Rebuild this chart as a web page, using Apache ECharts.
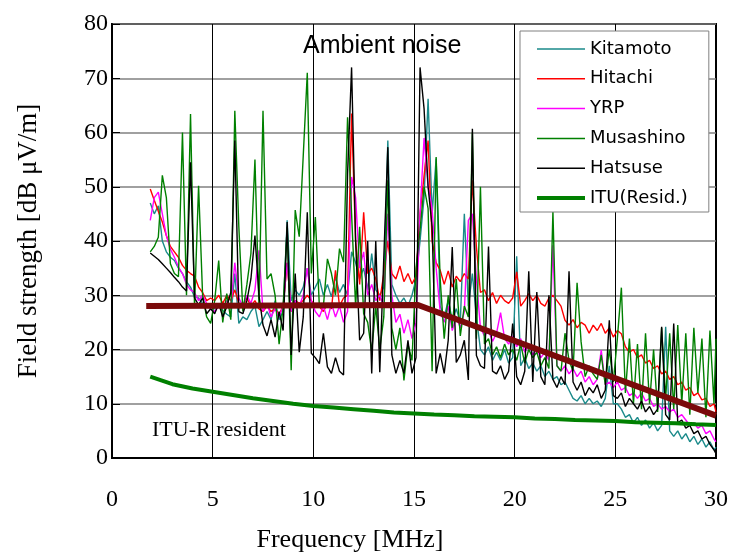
<!DOCTYPE html>
<html>
<head>
<meta charset="utf-8">
<script src="https://cdn.jsdelivr.net/npm/echarts/dist/echarts.min.js"></script>
<style>
html,body{margin:0;padding:0;background:#fff;}
#main{width:731px;height:553px;}
</style>
</head>
<body>
<div id="main"></div>
<script>
// 测定频率 (MHz)
var freq = [1.9,
  2.1,2.3,2.5,2.7,2.9, 3.1,3.3,3.5,3.7,3.9, 4.1,4.3,4.5,4.7,4.9, 5.1,5.3,5.5,5.7,5.9,
  6.1,6.3,6.5,6.7,6.9, 7.1,7.3,7.5,7.7,7.9, 8.1,8.3,8.5,8.7,8.9, 9.1,9.3,9.5,9.7,9.9,
  10.1,10.3,10.5,10.7,10.9, 11.1,11.3,11.5,11.7,11.9, 12.1,12.3,12.5,12.7,12.9, 13.1,13.3,13.5,13.7,13.9,
  14.1,14.3,14.5,14.7,14.9, 15.1,15.3,15.5,15.7,15.9, 16.1,16.3,16.5,16.7,16.9, 17.1,17.3,17.5,17.7,17.9,
  18.1,18.3,18.5,18.7,18.9, 19.1,19.3,19.5,19.7,19.9, 20.1,20.3,20.5,20.7,20.9, 21.1,21.3,21.5,21.7,21.9,
  22.1,22.3,22.5,22.7,22.9, 23.1,23.3,23.5,23.7,23.9, 24.1,24.3,24.5,24.7,24.9, 25.1,25.3,25.5,25.7,25.9,
  26.1,26.3,26.5,26.7,26.9, 27.1,27.3,27.5,27.7,27.9, 28.1,28.3,28.5,28.7,28.9, 29.1,29.3,29.5,29.7,29.9,
  30.0];

var kitamoto = [47.0,
  45.0,46.5,40.0,38.0,37.0, 36.4,35.0,34.0,32.5,31.5, 29.7,29.5,28.5,28.2,27.9, 27.5,28.5,27.2,26.5,26.0,
  34.0,24.8,26.0,25.5,27.0, 28.0,24.2,25.5,27.0,25.5, 29.0,25.5,27.0,43.8,29.0, 31.0,30.0,31.5,35.0,30.0,
  31.5,33.0,30.0,32.0,29.7, 33.4,30.5,32.0,30.0,38.0, 36.0,33.0,35.0,31.0,37.7, 31.0,30.0,31.5,58.5,32.0,
  30.0,28.5,29.5,28.0,30.0, 33.0,40.0,48.0,66.2,45.0, 55.2,28.0,26.0,29.0,25.5, 27.5,25.0,45.0,28.0,34.0,
  26.0,20.0,19.0,20.5,18.0, 19.5,18.0,20.0,17.5,18.5, 37.2,17.0,18.5,16.5,17.5, 16.0,17.0,15.0,16.0,14.5,
  15.0,13.5,14.0,12.5,11.0, 10.5,11.5,10.0,11.0,10.0, 10.5,9.5,11.0,17.0,10.0, 10.0,9.0,7.5,8.0,6.5,
  7.5,6.0,7.0,5.5,6.5, 5.0,6.0,24.2,5.0,4.0, 5.0,3.5,4.5,3.0,4.0, 2.5,3.5,2.0,3.0,1.5,
  2.0];

var hitachi = [49.6,
  47.5,45.5,43.5,41.0,39.0, 38.0,37.0,35.5,34.6,34.0, 33.5,31.5,30.5,29.0,29.5, 29.0,30.0,28.5,30.0,29.0,
  31.0,28.5,28.0,29.5,28.0, 29.0,27.5,27.0,28.0,27.0, 27.5,26.5,28.0,36.0,27.0, 29.0,28.5,29.0,30.0,29.0,
  28.0,27.9,27.0,28.5,27.5, 34.6,28.0,29.5,30.0,63.5, 40.0,32.0,45.3,34.0,35.0, 33.0,29.0,34.0,40.0,34.0,
  33.0,35.4,32.5,34.0,32.1, 33.5,45.0,52.0,58.5,40.0, 36.0,34.6,32.0,34.5,31.5, 33.5,32.5,34.0,33.0,51.2,
  38.9,30.5,31.0,29.0,30.5, 28.5,30.0,29.0,28.5,29.5, 34.3,28.0,29.0,30.3,29.0, 30.0,28.5,28.0,29.5,30.0,
  29.0,28.0,25.4,24.5,25.5, 24.0,25.0,24.5,23.0,24.5, 23.5,24.8,23.0,24.0,22.3, 23.5,22.9,20.5,19.5,20.0,
  18.5,19.0,17.5,18.0,16.5, 17.0,15.5,16.0,14.5,15.0, 13.5,14.0,12.5,13.0,11.5, 12.0,10.7,11.0,9.5,10.0,
  8.5];

var yrp = [43.8,
  48.0,49.0,45.0,41.0,38.5, 37.0,35.2,34.0,32.0,31.0, 30.5,29.0,30.0,28.5,27.5, 27.0,28.0,27.5,29.0,28.0,
  36.0,29.5,28.0,30.0,28.5, 31.0,38.3,27.0,28.5,26.0, 27.5,26.0,28.0,36.0,27.0, 29.0,28.0,30.0,35.0,29.0,
  27.0,26.0,28.0,25.5,28.5, 26.0,28.0,25.0,27.0,51.8, 48.0,35.0,38.0,30.0,32.0, 29.0,30.0,28.0,45.0,30.0,
  25.0,26.5,23.0,25.5,22.0, 25.0,45.0,59.0,50.0,46.0, 35.0,27.0,25.0,28.0,23.5, 26.0,24.0,27.0,43.8,45.0,
  33.0,24.0,22.5,23.5,21.5, 23.0,26.8,22.0,21.0,22.5, 20.5,22.0,19.5,21.0,19.0, 20.0,18.5,19.5,18.0,39.2,
  17.0,16.0,17.0,15.5,16.5, 15.0,16.0,14.0,15.0,13.5, 14.5,19.9,13.5,14.0,13.0, 14.0,12.5,13.0,11.5,12.0,
  11.0,12.0,10.5,11.0,9.5, 10.0,9.0,9.5,8.5,9.0, 7.5,8.0,7.0,6.0,6.5, 5.5,6.0,4.5,5.0,3.5,
  3.0];

var musashino = [38.0,
  39.0,40.7,52.1,48.0,35.8, 34.0,33.4,60.0,30.0,63.4, 27.9,50.2,30.0,26.0,24.8, 29.0,36.4,25.0,30.3,25.5,
  64.0,42.6,27.0,32.0,37.7, 55.0,28.0,64.0,33.0,34.0, 30.0,21.0,27.9,42.6,16.2, 45.7,40.8,55.8,71.0,34.0,
  44.4,27.9,28.0,36.7,34.0, 30.0,38.6,36.1,62.8,45.0, 27.9,42.6,26.6,25.0,19.6, 28.0,20.0,26.0,51.2,24.0,
  20.0,24.0,14.3,21.0,18.0, 35.0,42.0,50.0,46.0,16.0, 55.5,33.0,22.0,30.0,24.0, 33.0,22.5,28.0,26.0,60.0,
  22.0,50.0,21.0,22.0,19.0, 20.5,18.5,21.0,19.0,20.0, 18.0,21.0,17.5,20.0,18.5, 19.5,17.0,18.5,16.5,45.5,
  17.0,16.0,23.0,18.0,16.0, 32.3,21.4,15.0,17.0,15.5, 14.5,19.0,13.5,20.0,14.0, 22.0,31.4,12.0,22.0,10.0,
  21.0,9.0,23.0,10.0,20.0, 8.5,24.0,11.0,23.0,9.0, 24.5,10.0,23.0,8.0,24.0, 12.0,22.0,7.5,23.5,10.0,
  22.0];

var hatsuse = [37.8,
  37.2,36.6,35.8,35.0,34.2, 33.3,32.5,31.5,30.8,54.5, 29.5,28.2,29.5,26.6,27.5, 26.6,28.5,26.0,27.9,30.5,
  58.5,27.0,26.6,29.0,33.0, 41.0,30.0,24.5,22.5,25.5, 22.3,27.0,23.5,43.5,19.0, 34.0,19.5,26.0,45.3,19.3,
  18.5,17.4,23.0,16.8,15.6, 18.5,16.0,15.3,52.4,72.0, 40.0,21.7,23.0,40.0,15.6, 40.0,15.8,37.0,57.3,19.0,
  15.6,18.0,15.6,21.7,15.6, 18.5,72.0,64.4,50.0,42.6, 15.6,19.3,15.6,21.7,38.9, 17.6,19.0,21.7,14.4,60.7,
  18.9,17.0,16.5,39.0,16.0, 15.5,17.0,14.5,16.0,24.8, 15.0,13.5,16.0,34.4,14.0, 30.6,15.0,13.5,30.0,14.5,
  13.0,15.0,13.5,34.4,14.0, 12.5,14.0,11.5,13.0,12.0, 13.5,11.0,12.5,25.4,11.5, 11.0,12.0,9.5,11.0,10.0,
  9.0,10.5,8.5,9.5,8.0, 9.0,24.2,8.0,7.0,24.8, 6.5,7.0,5.5,6.0,4.5, 5.0,3.5,4.0,2.5,1.5,
  0.8];

// ITU-R 住宅地域
var residFreq = [1.9, 3,4,5,6,7,8,9,10,11,12,13,14,15,16,17,18,19,20,21,22,23,24,25,26,27,28,29,30];
var residVal = [15.0, 13.6,12.8,12.2,11.6,11.0,10.5,10.0,9.6,9.3,9.0,8.7,8.4,8.2,8.0,7.9,7.7,7.6,7.5,7.3,7.2,7.0,6.9,6.8,6.6,6.5,6.4,6.2,6.1];

// 折线 (限值)
var limitFreq = [1.7, 15.2, 30];
var limitVal = [28.0, 28.2, 7.8];

var xTicks = [0, 5, 10, 15, 20, 25, 30];

function pairs(xs, ys){
  return xs.map(function(x, i){ return [x, ys[i]]; });
}

function lineSeries(name, color, width, xs, ys){
  return {
    name: name,
    type: 'line',
    symbol: 'none',
    silent: true,
    color: color,
    lineStyle: { color: color, width: width },
    data: pairs(xs, ys)
  };
}

// 图例用细线/粗线
var thinIcon = 'path://M0,0L48,0L48,1.5L0,1.5Z';
var thickIcon = 'path://M0,0L48,0L48,4L0,4Z';

var serif = 'Liberation Serif';

var option = {
  animation: false,
  backgroundColor: '#fff',
  grid: {
    left: 112, right: 15, top: 24, bottom: 95,
    show: true, borderColor: '#000', borderWidth: 2
  },
  xAxis: {
    type: 'value', min: xTicks[0], max: xTicks[xTicks.length - 1], interval: 5,
    axisLine: { lineStyle: { color: '#000', width: 2 } },
    axisTick: { inside: true, length: 6, lineStyle: { color: '#000' } },
    axisLabel: { fontFamily: serif, fontSize: 24, color: '#000', margin: 30 },
    splitLine: { lineStyle: { color: '#000', width: 1 } }
  },
  yAxis: {
    type: 'value', min: 0, max: 80, interval: 10,
    name: 'Field strength [dB\u00a0\u03bcV/m]', nameLocation: 'middle', nameGap: 70,
    nameTextStyle: { fontFamily: serif, fontSize: 27, color: '#000' },
    axisLine: { show: true, lineStyle: { color: '#000', width: 2 } },
    axisTick: { show: true, inside: true, length: 8, lineStyle: { color: '#000' } },
    axisLabel: { fontFamily: serif, fontSize: 24, color: '#000', margin: 4 },
    splitLine: { lineStyle: { color: '#808080', width: 1.5 } }
  },
  legend: {
    orient: 'vertical', left: 520, top: 31,
    padding: [9, 21, 5, 17],
    itemWidth: 48, itemHeight: 14, itemGap: 11.8,
    backgroundColor: '#fff', borderColor: '#808080', borderWidth: 1,
    textStyle: { fontFamily: 'DejaVu Sans', fontSize: 18, color: '#000' },
    data: [
      { name: 'Kitamoto', icon: thinIcon },
      { name: 'Hitachi', icon: thinIcon },
      { name: 'YRP', icon: thinIcon },
      { name: 'Musashino', icon: thinIcon },
      { name: 'Hatsuse', icon: thinIcon },
      { name: 'ITU(Resid.)', icon: thickIcon }
    ]
  },
  graphic: [
    { type: 'text', left: 303, top: 34,
      style: { text: 'Ambient noise', fontFamily: 'Liberation Sans', fontSize: 25, fill: '#000' } },
    { type: 'text', left: 152, top: 419,
      style: { text: 'ITU-R resident', fontFamily: serif, fontSize: 22, fill: '#000' } },
    { type: 'text', x: 350, y: 540,
      style: { text: 'Frequency [MHz]', fontFamily: serif, fontSize: 26, fill: '#000',
               textAlign: 'center', textVerticalAlign: 'middle' } }
  ],
  series: [
    lineSeries('Kitamoto', '#1a8a8a', 1.4, freq, kitamoto),
    lineSeries('Hitachi', '#ff0000', 1.4, freq, hitachi),
    lineSeries('YRP', '#ff00ff', 1.4, freq, yrp),
    lineSeries('Musashino', '#008000', 1.4, freq, musashino),
    lineSeries('Hatsuse', '#000000', 1.4, freq, hatsuse),
    lineSeries('ITU(Resid.)', '#008000', 4, residFreq, residVal),
    lineSeries('limit', '#7a0a0a', 6, limitFreq, limitVal)
  ]
};

var chart = echarts.init(document.getElementById('main'));
chart.setOption(option);
</script>
</body>
</html>
